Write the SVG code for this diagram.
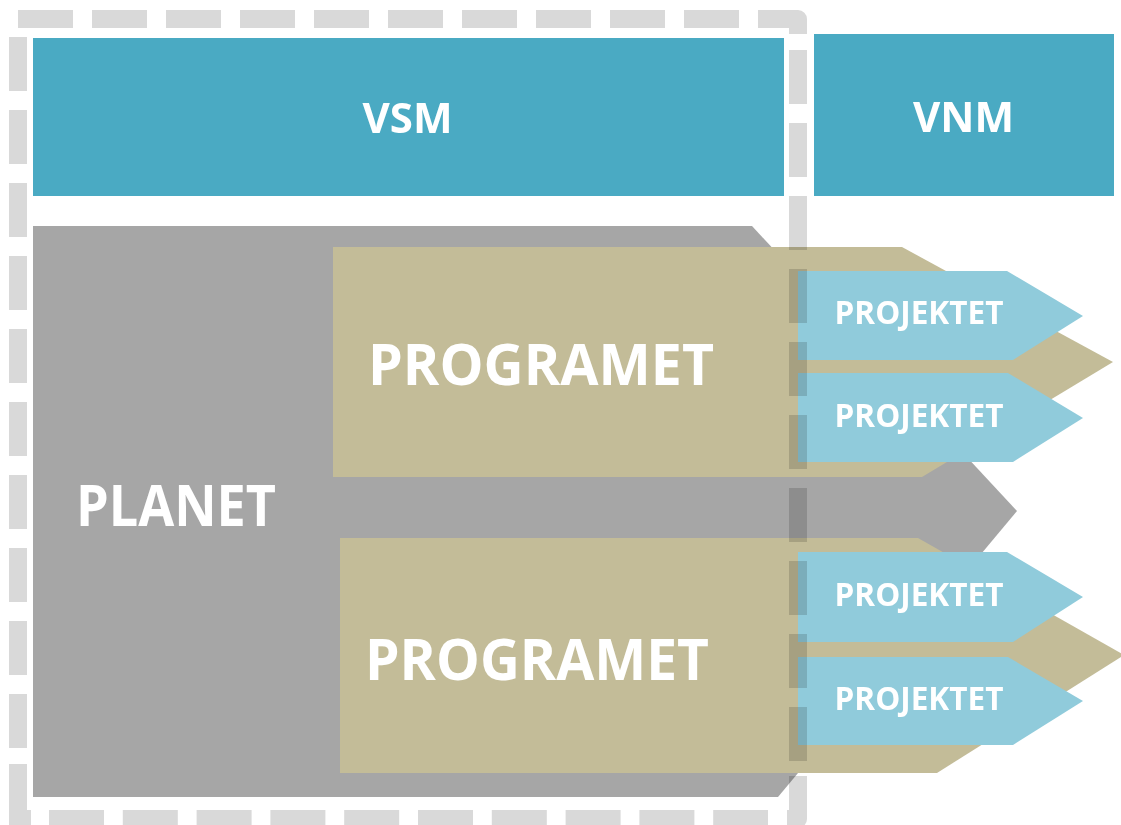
<svg xmlns="http://www.w3.org/2000/svg" width="1121" height="825" viewBox="0 0 1121 825">
  <style>
    .hdr { fill: #4AAAC3; }
    .planet { fill: #A6A6A6; }
    .prog { fill: #C3BC98; }
    .proj { fill: #90CBDB; }
    text { font-family: "Open Sans", "DejaVu Sans", sans-serif; font-weight: 700; fill: #FFFFFF; text-anchor: middle; }
    .t-hdr { font-size: 42px; }
    .t-big { font-size: 57px; }
    .t-proj { font-size: 32px; }
    .dash { fill: none; stroke: #D9D9D9; stroke-width: 18; stroke-linecap: butt; stroke-linejoin: round; }
  </style>
  <rect width="1121" height="825" fill="#FFFFFF"/>

  <g id="vsm">
    <rect class="hdr" x="33" y="38" width="751" height="158"/>
    <text class="t-hdr" x="407.5" y="133">VSM</text>
  </g>
  <g id="vnm">
    <rect class="hdr" x="814" y="34" width="300" height="162"/>
    <text class="t-hdr" x="963.5" y="132">VNM</text>
  </g>

  <g id="planet">
    <polygon class="planet" points="33,226 752,226 1017,511 778,797 33,797"/>
    <text class="t-big" x="176" y="526" textLength="200" lengthAdjust="spacingAndGlyphs">PLANET</text>
  </g>

  <g id="programet-1">
    <polygon class="prog" points="333,247 902,247 1113,362 922,477 333,477"/>
    <text class="t-big" x="541" y="385" textLength="346" lengthAdjust="spacingAndGlyphs">PROGRAMET</text>
  </g>
  <g id="programet-2">
    <polygon class="prog" points="340,538 918,538 1124,655 937,773 340,773"/>
    <text class="t-big" x="537" y="680" textLength="344" lengthAdjust="spacingAndGlyphs">PROGRAMET</text>
  </g>

  <g id="projektet-1">
    <polygon class="proj" points="798,271 1007,271 1083,316 1013,360 798,360"/>
    <text class="t-proj" x="919" y="324" textLength="169" lengthAdjust="spacingAndGlyphs">PROJEKTET</text>
  </g>
  <g id="projektet-2">
    <polygon class="proj" points="798,373 1008,373 1083,418 1013,462 798,462"/>
    <text class="t-proj" x="919" y="427" textLength="169" lengthAdjust="spacingAndGlyphs">PROJEKTET</text>
  </g>
  <g id="projektet-3">
    <polygon class="proj" points="798,552 1007,552 1083,597 1013,642 798,642"/>
    <text class="t-proj" x="919" y="606" textLength="169" lengthAdjust="spacingAndGlyphs">PROJEKTET</text>
  </g>
  <g id="projektet-4">
    <polygon class="proj" points="798,657 1008,657 1083,701 1013,745 798,745"/>
    <text class="t-proj" x="919" y="710" textLength="169" lengthAdjust="spacingAndGlyphs">PROJEKTET</text>
  </g>

  <g id="vsm-boundary" style="mix-blend-mode:multiply">
    <path class="dash" d="M18,19 H798 V34" stroke-dasharray="55 19"/>
    <path class="dash" d="M798,50 V761" stroke-dasharray="54 19"/>
    <path class="dash" d="M798,776 V819 H787"/>
    <path class="dash" d="M49,819 H768" stroke-dasharray="55 18.8"/>
    <path class="dash" d="M18,37 V749" stroke-dasharray="54 19"/>
    <path class="dash" d="M18,764 V819 H31" style="stroke-linejoin:miter"/>
  </g>

  <g id="connectors"/>
</svg>
